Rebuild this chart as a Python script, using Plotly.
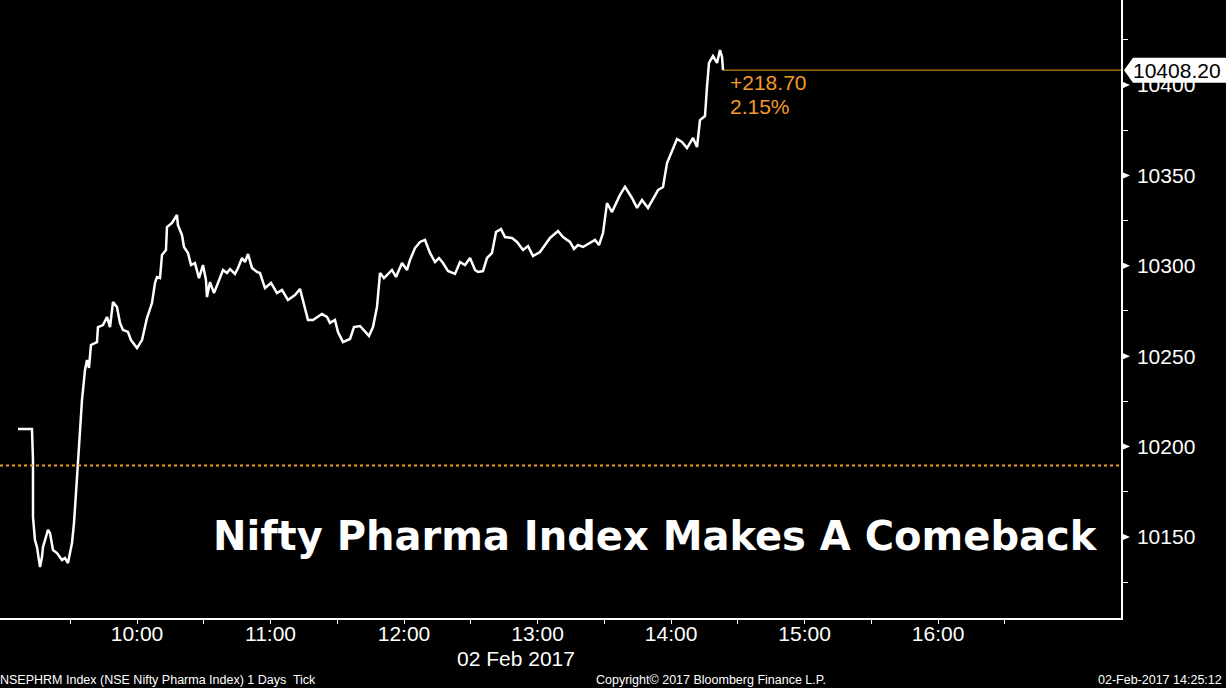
import plotly.graph_objects as go

day = "2017-02-02 "

# intraday ticks (time, index level)
tick_times = [
    "09:06:31", "09:12:48", "09:13:15", "09:13:16", "09:14:09", "09:15:03", "09:16:24", "09:17:18",
    "09:17:45", "09:20:00", "09:20:54", "09:22:15", "09:24:03", "09:26:17", "09:27:38", "09:28:59",
    "09:30:47", "09:31:41", "09:32:35", "09:33:29", "09:34:23", "09:35:17", "09:36:38", "09:37:32",
    "09:38:25", "09:39:19", "09:42:01", "09:42:28", "09:44:43", "09:46:31", "09:47:52", "09:49:13",
    "09:51:00", "09:52:21", "09:53:42", "09:55:57", "09:57:18", "10:00:00", "10:02:15", "10:04:29",
    "10:06:44", "10:08:05", "10:08:59", "10:10:20", "10:11:14", "10:13:01", "10:13:28", "10:15:43",
    "10:17:57", "10:18:24", "10:20:13", "10:21:07", "10:22:55", "10:24:16", "10:26:04", "10:27:51",
    "10:29:39", "10:31:00", "10:31:27", "10:32:48", "10:34:36", "10:36:24", "10:38:39", "10:40:26",
    "10:41:47", "10:44:02", "10:45:23", "10:47:11", "10:48:32", "10:49:53", "10:51:41", "10:53:55",
    "10:55:16", "10:57:31", "11:00:13", "11:02:55", "11:05:10", "11:07:51", "11:11:00", "11:13:15",
    "11:14:36", "11:16:50", "11:19:05", "11:23:08", "11:25:23", "11:26:43", "11:28:58", "11:30:19",
    "11:32:34", "11:35:43", "11:37:31", "11:40:13", "11:44:15", "11:46:03", "11:47:51", "11:49:12",
    "11:51:00", "11:52:21", "11:54:35", "11:56:23", "11:59:05", "12:01:20", "12:02:41", "12:04:56",
    "12:07:11", "12:09:25", "12:11:40", "12:13:55", "12:15:43", "12:17:31", "12:19:45", "12:22:54",
    "12:25:09", "12:27:24", "12:29:39", "12:31:54", "12:33:14", "12:35:29", "12:37:17", "12:39:32",
    "12:41:20", "12:43:35", "12:45:22", "12:48:31", "12:50:46", "12:53:28", "12:55:43", "12:57:57",
    "13:01:06", "13:05:36", "13:09:12", "13:11:26", "13:14:35", "13:16:23", "13:18:11", "13:20:26",
    "13:23:34", "13:25:49", "13:27:37", "13:29:25", "13:31:13", "13:33:28", "13:37:03", "13:39:18",
    "13:42:27", "13:44:42", "13:46:56", "13:49:38", "13:54:08", "13:56:23", "13:58:11", "14:00:25",
    "14:02:40", "14:04:55", "14:07:10", "14:09:52", "14:11:40", "14:13:00", "14:15:15", "14:16:09",
    "14:17:03", "14:18:51", "14:20:39", "14:22:00", "14:22:54", "14:23:21",
]
tick_prices = [
    10209.7, 10209.7, 10192.6, 10161.0, 10148.3, 10144.4, 10133.4, 10138.9,
    10144.4, 10153.9, 10152.2, 10142.8, 10141.1, 10137.3, 10138.4, 10135.6,
    10146.7, 10157.7, 10174.3, 10190.9, 10207.5, 10225.8, 10242.4, 10247.9,
    10243.5, 10256.2, 10257.8, 10266.1, 10267.2, 10271.7, 10266.1, 10280.0,
    10277.2, 10268.4, 10264.5, 10263.4, 10258.9, 10254.5, 10258.9, 10271.1,
    10279.4, 10290.5, 10293.8, 10293.2, 10306.0, 10308.7, 10321.4, 10323.7,
    10328.1, 10322.5, 10317.0, 10310.4, 10307.1, 10300.4, 10301.5, 10293.2,
    10300.4, 10292.1, 10282.7, 10291.0, 10284.9, 10291.0, 10297.7, 10296.0,
    10298.2, 10295.5, 10298.8, 10304.3, 10302.1, 10306.5, 10298.8, 10296.6,
    10296.0, 10287.7, 10290.5, 10284.9, 10286.6, 10281.1, 10283.8, 10287.2,
    10281.1, 10270.0, 10270.0, 10273.3, 10271.7, 10268.4, 10270.0, 10263.4,
    10257.8, 10259.5, 10266.1, 10266.7, 10261.2, 10266.1, 10277.2, 10296.0,
    10293.2, 10294.9, 10297.7, 10293.8, 10301.5, 10297.7, 10303.2, 10309.8,
    10313.2, 10314.3, 10307.1, 10302.1, 10304.3, 10301.5, 10297.1, 10295.5,
    10302.1, 10300.4, 10304.3, 10297.7, 10296.6, 10297.1, 10304.3, 10307.1,
    10318.7, 10320.3, 10315.9, 10315.4, 10313.2, 10308.7, 10310.9, 10305.4,
    10307.6, 10315.4, 10319.2, 10315.9, 10313.2, 10309.3, 10311.5, 10310.4,
    10312.6, 10314.3, 10311.5, 10318.1, 10334.7, 10329.7, 10339.2, 10343.6,
    10337.5, 10332.0, 10336.4, 10332.0, 10341.9, 10343.6, 10356.8, 10364.0,
    10370.1, 10368.5, 10365.1, 10370.7, 10365.7, 10380.6, 10382.8, 10398.9,
    10412.2, 10416.0, 10412.2, 10419.3, 10415.5, 10408.2,
]

prev_close = 10189.50
last_price = 10408.20
change = last_price - prev_close
pct_change = change / prev_close * 100

hour_labels = ["10:00", "11:00", "12:00", "13:00", "14:00", "15:00", "16:00"]
half_hours = ["09:30", "10:30", "11:30", "12:30", "13:30", "14:30", "15:30", "16:30"]
y_ticks = [10150, 10200, 10250, 10300, 10350, 10400]
y_minor = [10125, 10175, 10225, 10275, 10325, 10375, 10425]

title = "Nifty Pharma Index Makes A Comeback"
orange = "#f39a2a"
font = "Liberation Sans"

times = [day + t for t in tick_times]
x_end = day + "17:22:12"

fig = go.Figure()
fig.add_trace(go.Scatter(x=times, y=tick_prices, mode="lines",
                         line=dict(color="white", width=2.5), hoverinfo="skip"))

shapes = [
    # previous close
    dict(type="line", xref="paper", x0=0, x1=1, yref="y", y0=prev_close, y1=prev_close,
         line=dict(color=orange, width=2, dash="dot")),
    # last price guide
    dict(type="line", xref="x", x0=times[-1], x1=x_end, yref="y", y0=last_price, y1=last_price,
         line=dict(color=orange, width=1)),
]
# triangle markers on the major y ticks
for v in y_ticks:
    shapes.append(dict(type="path", xref="paper", xsizemode="pixel", xanchor=1,
                       yref="y", ysizemode="pixel", yanchor=v,
                       path="M1,-3.5 L9,0 L1,3.5 Z", fillcolor="white", line=dict(width=0)))
# last price tag
shapes.append(dict(type="path", xref="paper", xsizemode="pixel", xanchor=1,
                   yref="y", ysizemode="pixel", yanchor=last_price,
                   path="M3,0 L12,-12.5 L106,-12.5 L106,12.5 L12,12.5 Z",
                   fillcolor="white", line=dict(width=0), layer="above"))

annotations = [
    dict(text="<b>" + title + "</b>", xref="paper", x=0.9777, xanchor="right", xshift=4,
         yref="y", y=10150.5, yanchor="middle", showarrow=False,
         font=dict(family="DejaVu Sans", size=40, color="white")),
    dict(text="%.2f" % last_price, xref="paper", x=1, xanchor="left", xshift=10,
         yref="y", y=last_price, yanchor="middle", showarrow=False,
         font=dict(family=font, size=21, color="black")),
    dict(text="+%.2f" % change, xref="x", x=times[-1], xanchor="left", xshift=5,
         yref="y", y=last_price, yanchor="middle", yshift=-12, showarrow=False,
         font=dict(family=font, size=21, color=orange)),
    dict(text="%.2f%%" % pct_change, xref="x", x=times[-1], xanchor="left", xshift=5,
         yref="y", y=last_price, yanchor="middle", yshift=-36, showarrow=False,
         font=dict(family=font, size=21, color=orange)),
    dict(text="02 Feb 2017", xref="paper", x=0.4603, xanchor="center",
         yref="paper", y=0, yanchor="middle", yshift=-40, showarrow=False,
         font=dict(family=font, size=21, color="white")),
    dict(text="NSEPHRM Index (NSE Nifty Pharma Index) 1 Days  Tick", xref="paper", x=0,
         xanchor="left", xshift=-2, yref="paper", y=0, yanchor="middle", yshift=-62,
         showarrow=False, font=dict(family=font, size=12.5, color="white")),
    dict(text="Copyright\u00a9 2017 Bloomberg Finance L.P.", xref="paper", x=0.634,
         xanchor="center", yref="paper", y=0, yanchor="middle", yshift=-62,
         showarrow=False, font=dict(family=font, size=12.5, color="white")),
    dict(text="02-Feb-2017 14:25:12", xref="paper", x=1.0919, xanchor="right",
         yref="paper", y=0, yanchor="middle", yshift=-62,
         showarrow=False, font=dict(family=font, size=12.5, color="white")),
]

fig.update_layout(
    width=1226, height=688,
    margin=dict(l=0, r=105, t=0, b=70, pad=0, autoexpand=False),
    paper_bgcolor="black", plot_bgcolor="black",
    showlegend=False,
    shapes=shapes, annotations=annotations,
    xaxis=dict(
        type="date", range=[day + "08:58:26", x_end],
        tickvals=[day + h for h in hour_labels], ticktext=hour_labels,
        ticks="outside", ticklen=4, tickcolor="white", tickwidth=1,
        ticklabelstandoff=-8,
        minor=dict(tickvals=[day + h for h in half_hours], ticks="outside",
                   ticklen=4, tickcolor="white", tickwidth=1, showgrid=False),
        showline=True, linecolor="white", linewidth=1.5,
        showgrid=False, zeroline=False,
        tickfont=dict(family=font, size=21, color="white"),
        fixedrange=True,
    ),
    yaxis=dict(
        side="right", range=[10105.2, 10447.0],
        tickvals=y_ticks, ticktext=[str(v) for v in y_ticks],
        ticks="", ticklabelstandoff=10,
        minor=dict(tickvals=y_minor, ticks="outside", ticklen=5,
                   tickcolor="white", tickwidth=1, showgrid=False),
        showline=True, linecolor="white", linewidth=1.5,
        showgrid=False, zeroline=False,
        tickfont=dict(family=font, size=21, color="white"),
        fixedrange=True,
    ),
)

# the page has a default 8px body margin; drop it so the figure fills the window
fig.write_html("out.html", config={"displayModeBar": False},
               post_script="document.body.style.margin='0';")
